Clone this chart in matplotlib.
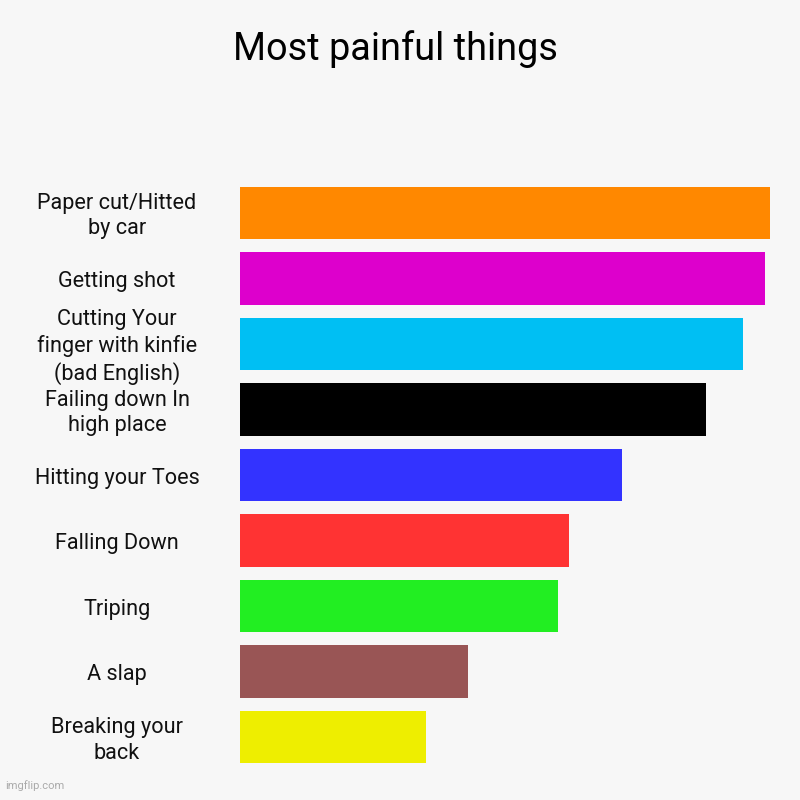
import matplotlib
matplotlib.use("Agg")
import matplotlib.pyplot as plt

plt.rcParams['font.family'] = ['Roboto', 'DejaVu Sans']

labels = [
    "Paper cut/Hitted\nby car",
    "Getting shot",
    "Cutting Your\nfinger with kinfie\n(bad English)",
    "Failing down In\nhigh place",
    "Hitting your Toes",
    "Falling Down",
    "Triping",
    "A slap",
    "Breaking your\nback",
]
values = [100, 99, 95, 88, 72, 62, 60, 43, 35]
colors = ["#FF8800", "#DD00CC", "#00BFF3", "#000000", "#3333FF",
          "#FF3333", "#22EE22", "#995555", "#EEEE00"]

bg = "#F7F7F7"
fig = plt.figure(figsize=(8, 8), dpi=100, facecolor=bg)
ax = fig.add_axes([0.3, 0.0375, 0.6625, 0.7375])
ax.set_facecolor(bg)

ypos = list(range(len(values)))
ax.barh(ypos, values, height=0.8, color=colors)
ax.set_xlim(0, 100)
ax.set_ylim(len(values) - 0.5, -0.5)
ax.set_xticks([])
ax.set_yticks([])
for s in ax.spines.values():
    s.set_visible(False)

# labels centred in the left margin
for y, lab in zip(ypos, labels):
    ax.text(-23.2, y + 0.05, lab, ha="center", va="center", fontsize=15.6,
            color="#111111", linespacing=1.27)

fig.text(0.494, 0.939, "Most painful things", ha="center", va="center",
         fontsize=27.3, color="#000000")
fig.text(0.007, 0.011, "imgflip.com", ha="left", va="bottom",
         fontsize=8, color="#AAAAAA")

fig.savefig("out.png", facecolor=bg)
